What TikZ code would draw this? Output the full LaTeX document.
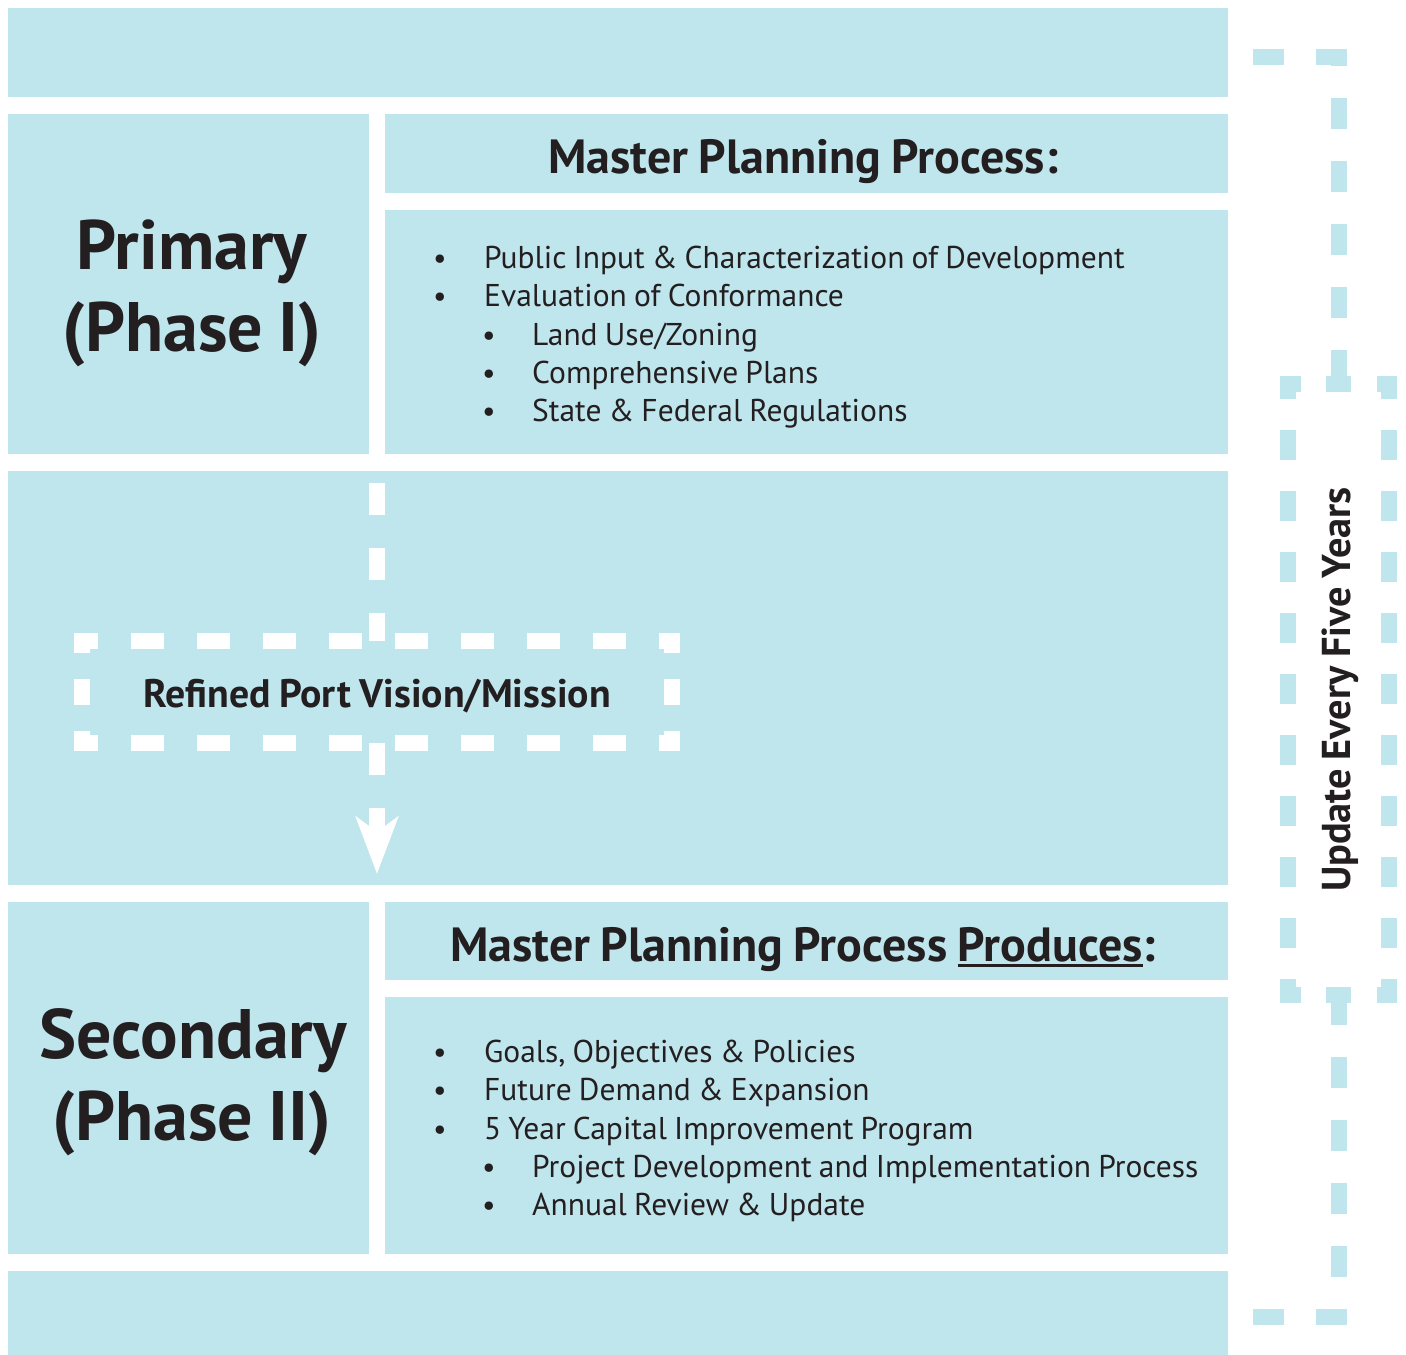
\documentclass[tikz,border=0pt]{standalone}
\usepackage{fontspec}
\setmainfont{PT Sans}[WordSpace=0.85]
\usetikzlibrary{arrows.meta}

\definecolor{panel}{RGB}{191,229,237}
\definecolor{ink}{RGB}{35,31,32}

% thick underline for the header word
\newcommand{\thickul}[1]{\leavevmode\setbox0=\hbox{#1}\rlap{\rule[-6pt]{\wd0}{2.8pt}}\box0}

\tikzset{
  phase/.style={font=\fontsize{70}{84}\selectfont\bfseries, text=ink, anchor=base},
  header/.style={font=\fontsize{48}{56}\selectfont\bfseries, text=ink, anchor=base},
  item/.style={font=\fontsize{31.5}{38}\selectfont, text=ink, anchor=base west, inner sep=0},
  dot/.style={font=\fontsize{30}{36}\selectfont, text=ink, anchor=base, inner sep=0},
  frame/.style={white, line width=16pt, line cap=rect},
  flow/.style={white, line width=16pt, dash pattern=on 32pt off 33pt},
  loop/.style={panel, line width=16pt, line cap=rect, line join=miter},
}

\begin{document}
\begin{tikzpicture}[x=1pt, y=-1pt]
    \useasboundingbox (0,0) rectangle (1406,1355);

    % background panels
    \fill[panel] (8,8) rectangle (1228,97);
    \fill[panel] (8,114) rectangle (369,454);
    \fill[panel] (385,114) rectangle (1228,193);
    \fill[panel] (385,210) rectangle (1228,454);
    \fill[panel] (8,471) rectangle (1228,885);
    \fill[panel] (8,902) rectangle (369,1254);
    \fill[panel] (385,902) rectangle (1228,980);
    \fill[panel] (385,997) rectangle (1228,1254);
    \fill[panel] (8,1271) rectangle (1228,1355);

    % phase titles
    \node[phase] (prim) at (192,269) {Primary};
    \node[phase] (primsub) at (192,351) {(Phase I)};
    \node[phase] (sec) at (193,1058) {Secondary};
    \node[phase] (secsub) at (192,1140) {(Phase II)};

    % headers
    \node[header] (mpp) at (803,173) {Master Planning Process:};
    \node[header] (mppout) at (803,961) {Master Planning Process \thickul{Produces}:};

    % first list
    \node[dot] (d1) at (440,268) {•};
    \node[item] (i1) at (484,268) {Public Input \& Characterization of Development};
    \node[dot] (d2) at (440,306) {•};
    \node[item] (i2) at (484,306) {Evaluation of Conformance};
    \node[dot] (d3) at (489,345) {•};
    \node[item] (i3) at (532,345) {Land Use/Zoning};
    \node[dot] (d4) at (489,383) {•};
    \node[item] (i4) at (532,383) {Comprehensive Plans};
    \node[dot] (d5) at (489,421) {•};
    \node[item] (i5) at (532,421) {State \& Federal Regulations};

    % second list
    \node[dot] (e1) at (440,1062) {•};
    \node[item] (j1) at (484,1062) {Goals, Objectives \& Policies};
    \node[dot] (e2) at (440,1100) {•};
    \node[item] (j2) at (484,1100) {Future Demand \& Expansion};
    \node[dot] (e3) at (440,1139) {•};
    \node[item] (j3) at (484,1139) {5 Year Capital Improvement Program};
    \node[dot] (e4) at (489,1177) {•};
    \node[item] (j4) at (532,1177) {Project Development and Implementation Process};
    \node[dot] (e5) at (489,1215) {•};
    \node[item] (j5) at (532,1215) {Annual Review \& Update};

    % vision box with the flow through it
    \node[font=\fontsize{39.8}{46}\selectfont\bfseries, text=ink, inner sep=0,
          text height=30pt, text depth=0pt,
          minimum width=589pt, minimum height=102pt] (vision) at (377,692) {Refined Port Vision/Mission};
    \draw[frame, dash pattern=on 17pt off 49pt, dash phase=9pt] (vision.north west) -- (vision.north east);
    \draw[frame, dash pattern=on 17pt off 49pt, dash phase=9pt] (vision.south west) -- (vision.south east);
    \draw[frame, dash pattern=on 4pt off 42pt on 10pt off 42pt on 4pt off 50pt] (vision.north west) -- (vision.south west);
    \draw[frame, dash pattern=on 4pt off 42pt on 10pt off 42pt on 4pt off 50pt] (vision.north east) -- (vision.south east);

    \coordinate (vtop) at (377,483);
    \coordinate (vtip) at (377,874);
    \draw[flow] (vtop) -- (vision.north);
    \draw[flow, -{Stealth[length=57pt, width=42pt, inset=15pt]}] (vision.south) -- (vtip);

    % five-year update loop on the right
    \node[minimum width=101pt, minimum height=611pt, inner sep=0] (cyclebox) at (1338.5,689.5) {};
    \node[font=\fontsize{40.3}{48}\selectfont\bfseries, text=ink, rotate=90] (update) at ([xshift=2pt]cyclebox.center) {Update Every Five Years};
    \draw[loop, dash pattern=on 5pt off 41pt on 9pt off 42pt on 4pt off 50pt] (cyclebox.north west) -- (cyclebox.north east);
    \draw[loop, dash pattern=on 5pt off 41pt on 9pt off 42pt on 4pt off 50pt] (cyclebox.south west) -- (cyclebox.south east);
    \draw[loop, dash pattern=on 14pt off 47pt, dash phase=7pt] (cyclebox.north west) -- (cyclebox.south west);
    \draw[loop, dash pattern=on 14pt off 47pt, dash phase=7pt] (cyclebox.north east) -- (cyclebox.south east);

    \coordinate (ctop) at (1252,57);
    \coordinate (cbot) at (1252,1317);
    \draw[loop, dash pattern=on 15pt off 48pt, dash phase=54pt] (ctop) -| (cyclebox.north);
    \draw[loop, dash pattern=on 15pt off 48pt, dash phase=54pt] (cbot) -| (cyclebox.south);
\end{tikzpicture}
\end{document}
